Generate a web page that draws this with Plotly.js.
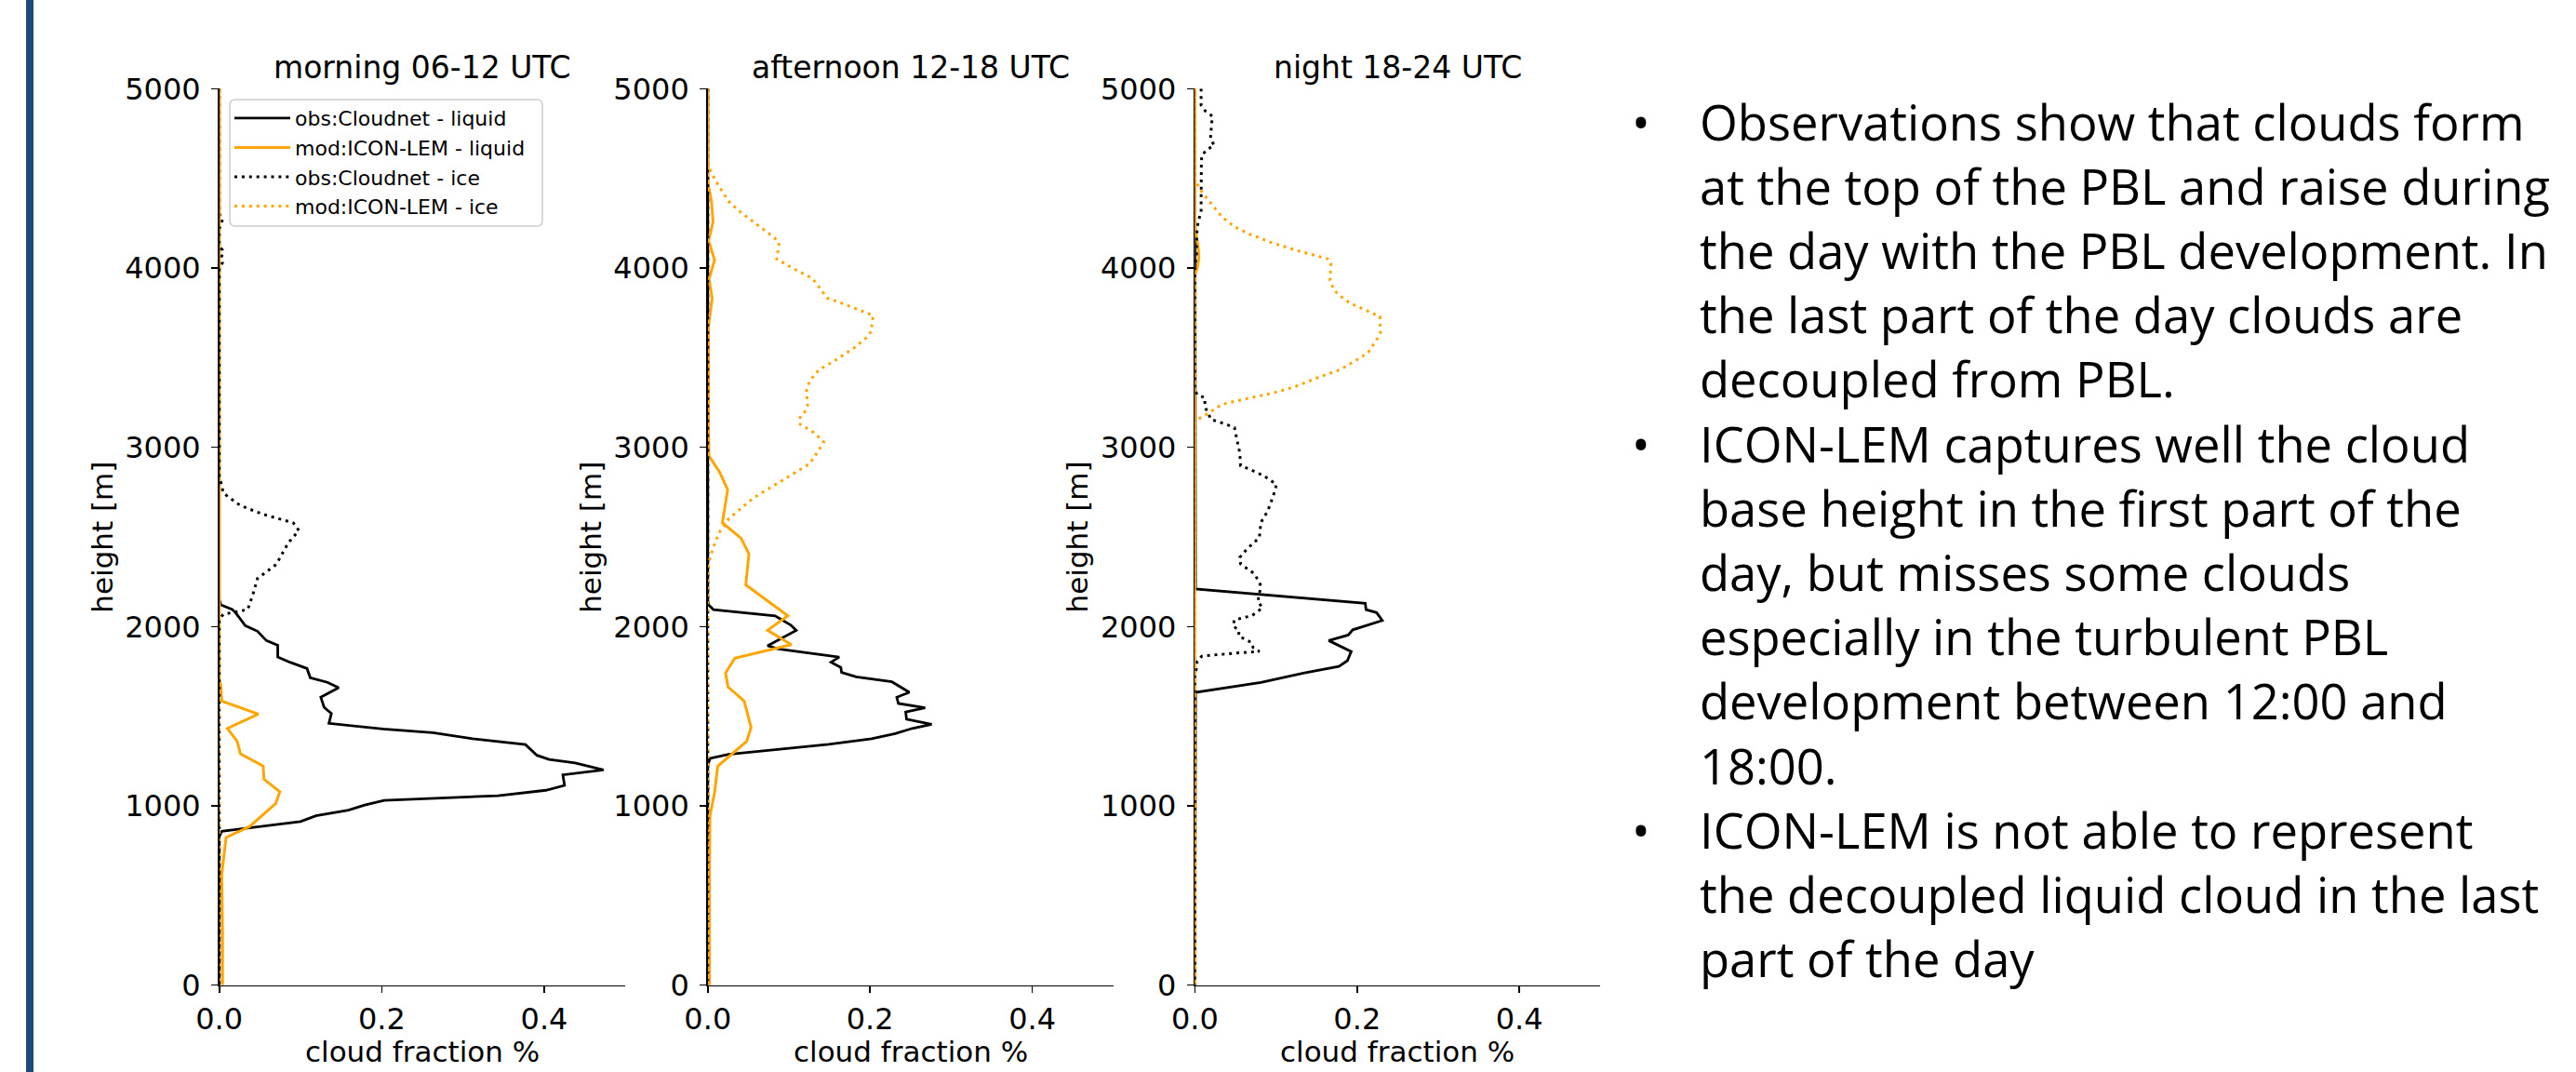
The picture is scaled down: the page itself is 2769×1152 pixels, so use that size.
<!DOCTYPE html>
<html>
<head>
<meta charset="utf-8">
<script src="https://cdn.plot.ly/plotly-3.0.1.min.js"></script>
<style>
html, body { margin: 0; padding: 0; background: #ffffff; }
#chart { width: 2769px; height: 1152px; }
</style>
</head>
<body>
<div id="chart"></div>
<script>
// ---------------- DATA ----------------
const panelTitles = ["morning 06-12 UTC", "afternoon 12-18 UTC", "night 18-24 UTC"];
const seriesNames = ["obs:Cloudnet - liquid", "mod:ICON-LEM - liquid", "obs:Cloudnet - ice", "mod:ICON-LEM - ice"];
const xAxisTitle = "cloud fraction %";
const yAxisTitle = "height [m]";
const xTickVals = [0, 0.2, 0.4];
const xTickText = ["0.0", "0.2", "0.4"];
const yTickVals = [0, 1000, 2000, 3000, 4000, 5000];
const yTickText = ["0", "1000", "2000", "3000", "4000", "5000"];

// morning 06-12 UTC
const morningObsLiqH = [5000, 2150, 2121, 2095, 2078, 2005, 1974, 1922, 1896, 1830, 1801, 1766, 1715, 1689, 1659, 1606, 1550, 1515, 1460, 1429, 1408, 1374, 1342, 1282, 1259, 1239, 1201, 1173, 1114, 1087, 1057, 1031, 1005, 976, 945, 913, 858, 830, 0];
const morningObsLiq  = [0, 0, 0.002, 0.016, 0.020, 0.032, 0.047, 0.058, 0.072, 0.072, 0.087, 0.108, 0.112, 0.133, 0.147, 0.125, 0.129, 0.138, 0.135, 0.2015, 0.263, 0.312, 0.377, 0.391, 0.406, 0.438, 0.473, 0.423, 0.425, 0.402, 0.343, 0.203, 0.179, 0.159, 0.119, 0.100, 0.003, 0, 0];
const morningModLiqH = [5000, 1700, 1671, 1585, 1512, 1432, 1360, 1291, 1222, 1149, 1079, 1014, 884, 824, 720, 616, 300, 0];
const morningModLiq  = [0, 0, 0.002, 0.003, 0.048, 0.010, 0.022, 0.026, 0.054, 0.055, 0.0745, 0.0696, 0.037, 0.0084, 0.0057, 0.003, 0.004, 0.004];
const morningObsIceH = [5000, 4300, 4280, 4250, 4220, 4120, 4100, 4060, 4030, 4000, 2830, 2804, 2744, 2675, 2626, 2579, 2536, 2467, 2346, 2268, 2173, 2095, 2069, 2040, 0];
const morningObsIce  = [0, 0, 0.004, 0.003, 0, 0, 0.004, 0.003, 0.004, 0, 0, 0.002, 0.005, 0.026, 0.054, 0.091, 0.098, 0.085, 0.070, 0.047, 0.041, 0.035, 0.005, 0, 0];
const morningModIceH = [5000, 0];
const morningModIce  = [0, 0];

// afternoon 12-18 UTC
const afternoonObsLiqH = [5000, 2150, 2121, 2095, 2060, 2043, 2008, 1979, 1893, 1875, 1835, 1830, 1801, 1772, 1744, 1720, 1692, 1633, 1606, 1571, 1547, 1524, 1484, 1455, 1432, 1403, 1374, 1343, 1287, 1265, 1230, 0];
const afternoonObsLiq  = [0, 0, 0.001, 0.007, 0.083, 0.089, 0.1025, 0.109, 0.0737, 0.087, 0.156, 0.162, 0.152, 0.164, 0.165, 0.183, 0.227, 0.2485, 0.233, 0.235, 0.268, 0.244, 0.245, 0.276, 0.252, 0.231, 0.202, 0.149, 0.0257, 0.003, 0, 0];
const afternoonModLiqH = [5000, 4500, 4456, 4370, 4257, 4153, 4044, 3937, 3833, 3678, 3100, 2951, 2865, 2764, 2579, 2493, 2406, 2277, 2233, 2060, 1979, 1899, 1824, 1741, 1663, 1585, 1437, 1360, 1222, 1074, 944, 650, 0];
const afternoonModLiq  = [0, 0, 0.001, 0.0046, 0.0065, 0.001, 0.0084, 0.0015, 0.0054, 0.001, 0.001, 0.0015, 0.0142, 0.0245, 0.018, 0.041, 0.0507, 0.0476, 0.0469, 0.0987, 0.0737, 0.103, 0.0334, 0.0219, 0.025, 0.0449, 0.0534, 0.048, 0.0123, 0.0084, 0.0027, 0.002, 0.002];
const afternoonObsIceH = [5000, 0];
const afternoonObsIce  = [0, 0];
const afternoonModIceH = [5000, 4600, 4569, 4525, 4447, 4370, 4309, 4252, 4171, 4141, 4096, 4050, 3986, 3942, 3871, 3833, 3802, 3750, 3735, 3695, 3647, 3609, 3553, 3479, 3432, 3370, 3318, 3231, 3193, 3159, 3128, 3081, 3029, 2986, 2908, 2813, 2718, 2602, 2524, 2441, 2354, 2320, 0];
const afternoonModIce  = [0, 0, 0.001, 0.005, 0.015, 0.026, 0.041, 0.0573, 0.0815, 0.088, 0.0864, 0.085, 0.110, 0.129, 0.141, 0.147, 0.166, 0.195, 0.204, 0.2025, 0.2016, 0.195, 0.180, 0.155, 0.137, 0.1256, 0.1218, 0.123, 0.119, 0.1125, 0.114, 0.1313, 0.143, 0.137, 0.1256, 0.091, 0.0564, 0.026, 0.014, 0.0066, 0.001, 0, 0];

// night 18-24 UTC
const nightObsLiqH = [5000, 2230, 2210, 2130, 2095, 2078, 2034, 1982, 1953, 1922, 1861, 1810, 1778, 1741, 1689, 1633, 0];
const nightObsLiq  = [0, 0, 0.0008, 0.210, 0.211, 0.224, 0.231, 0.1946, 0.189, 0.165, 0.1927, 0.188, 0.1775, 0.135, 0.0814, 0.0008, 0];
const nightModLiqH = [5000, 4250, 4200, 4120, 4060, 4000, 3960, 0];
const nightModLiq  = [0, 0, 0.001, 0.004, 0.005, 0.003, 0, 0];
const nightObsIceH = [5000, 4907, 4875, 4847, 4768, 4721, 4684, 4662, 4628, 4581, 4360, 4313, 4267, 4221, 4130, 4080, 4000, 3320, 3294, 3276, 3226, 3188, 3155, 3128, 3109, 3026, 2970, 2896, 2881, 2840, 2793, 2729, 2645, 2581, 2497, 2432, 2386, 2349, 2293, 2228, 2140, 2104, 2060, 2038, 2005, 1977, 1948, 1910, 1882, 1861, 1851, 1835, 1806, 1766, 1740, 0];
const nightObsIce  = [0.0077, 0.0077, 0.013, 0.0215, 0.020, 0.0192, 0.0238, 0.0154, 0.0085, 0.008, 0.0077, 0.0077, 0.0046, 0.0028, 0.002, 0.002, 0, 0, 0.0028, 0.0123, 0.0123, 0.016, 0.020, 0.039, 0.0488, 0.0526, 0.0553, 0.0564, 0.066, 0.0852, 0.1006, 0.0967, 0.0898, 0.0814, 0.0795, 0.0641, 0.0553, 0.0564, 0.0737, 0.0814, 0.0776, 0.0834, 0.070, 0.0488, 0.0469, 0.0546, 0.0538, 0.070, 0.0719, 0.0795, 0.0469, 0.0085, 0.0028, 0.002, 0, 0];
const nightModIceH = [5000, 4500, 4471, 4430, 4391, 4323, 4285, 4230, 4189, 4141, 4100, 4063, 4050, 4026, 3933, 3896, 3856, 3804, 3766, 3730, 3641, 3600, 3529, 3479, 3433, 3387, 3335, 3299, 3270, 3239, 3188, 3164, 3140, 0];
const nightModIce  = [0, 0, 0.0028, 0.0077, 0.0143, 0.0265, 0.0334, 0.0488, 0.0672, 0.0949, 0.1237, 0.154, 0.164, 0.1678, 0.1666, 0.1697, 0.1755, 0.191, 0.210, 0.228, 0.2288, 0.224, 0.2138, 0.1965, 0.179, 0.1505, 0.1217, 0.0929, 0.0621, 0.0334, 0.016, 0.0066, 0, 0];

const textLines = [
  "Observations show that clouds form",
  "at the top of the PBL and raise during",
  "the day with the PBL development. In",
  "the last part of the day clouds are",
  "decoupled from PBL.",
  "ICON-LEM captures well the cloud",
  "base height in the first part of the",
  "day, but misses some clouds",
  "especially in the turbulent PBL",
  "development between 12:00 and",
  "18:00.",
  "ICON-LEM is not able to represent",
  "the decoupled liquid cloud in the last",
  "part of the day"
];
const bulletLines = [0, 5, 11];

// ---------------- LAYOUT / STYLE ----------------
const W = 2769, H = 1152;
const px = x => x / W;
const py = y => 1 - y / H;

const panelX = [[235.7, 672.3], [760.8, 1196.8], [1284.4, 1720.4]];
const plotTop = 95.3, plotBottom = 1058.7;

const BLACK = "#000000", ORANGE = "#ffa500";
const DOT = "3px,4.9px";
const styles = [
  {color: BLACK, dash: "solid", width: 2.8},
  {color: ORANGE, dash: "solid", width: 3},
  {color: BLACK, dash: DOT, width: 3},
  {color: ORANGE, dash: DOT, width: 3}
];

const panels = [
  [[morningObsLiq, morningObsLiqH], [morningModLiq, morningModLiqH], [morningObsIce, morningObsIceH], [morningModIce, morningModIceH]],
  [[afternoonObsLiq, afternoonObsLiqH], [afternoonModLiq, afternoonModLiqH], [afternoonObsIce, afternoonObsIceH], [afternoonModIce, afternoonModIceH]],
  [[nightObsLiq, nightObsLiqH], [nightModLiq, nightModLiqH], [nightObsIce, nightObsIceH], [nightModIce, nightModIceH]]
];

const data = [];
panels.forEach((series, p) => {
  series.forEach((s, k) => {
    data.push({
      type: "scatter",
      mode: "lines",
      x: s[0],
      y: s[1],
      name: seriesNames[k],
      xaxis: p === 0 ? "x" : "x" + (p + 1),
      yaxis: p === 0 ? "y" : "y" + (p + 1),
      showlegend: p === 0,
      line: {color: styles[k].color, dash: styles[k].dash, width: styles[k].width},
      hoverinfo: "skip",
      cliponaxis: false
    });
  });
});

const tickFont = {family: "DejaVu Sans", size: 32, color: "#000"};
const labelFont = {family: "DejaVu Sans", size: 31, color: "#000"};

// legend frame (rounded, matplotlib-like)
const lb = {x0: 247, x1: 583, y0: 107, y1: 243, r: 6};
const P = (x, y) => px(x).toFixed(6) + "," + py(y).toFixed(6);
const legendFrame =
  "M" + P(lb.x0 + lb.r, lb.y0) + " L" + P(lb.x1 - lb.r, lb.y0) +
  " Q" + P(lb.x1, lb.y0) + " " + P(lb.x1, lb.y0 + lb.r) +
  " L" + P(lb.x1, lb.y1 - lb.r) +
  " Q" + P(lb.x1, lb.y1) + " " + P(lb.x1 - lb.r, lb.y1) +
  " L" + P(lb.x0 + lb.r, lb.y1) +
  " Q" + P(lb.x0, lb.y1) + " " + P(lb.x0, lb.y1 - lb.r) +
  " L" + P(lb.x0, lb.y0 + lb.r) +
  " Q" + P(lb.x0, lb.y0) + " " + P(lb.x0 + lb.r, lb.y0) + " Z";

const layout = {
  width: W, height: H,
  margin: {l: 0, r: 0, t: 0, b: 0, pad: 0, autoexpand: false},
  paper_bgcolor: "#ffffff",
  plot_bgcolor: "#ffffff",
  showlegend: true,
  legend: {
    x: px(247), y: py(106), xanchor: "left", yanchor: "top",
    bgcolor: "rgba(0,0,0,0)",
    borderwidth: 0,
    font: {family: "DejaVu Sans", size: 22, color: "#000"},
    itemwidth: 60,
    traceorder: "normal"
  },
  shapes: [
    {type: "rect", xref: "paper", yref: "paper", x0: px(28), x1: px(36), y0: 0, y1: 1,
     fillcolor: "#1f497d", line: {width: 0}, layer: "above"},
    {type: "path", xref: "paper", yref: "paper", path: legendFrame,
     fillcolor: "rgba(255,255,255,0.8)", line: {color: "#cccccc", width: 1.5}, layer: "above"}
  ],
  annotations: []
};

panelX.forEach((d, p) => {
  const sx = p === 0 ? "" : String(p + 1);
  layout["xaxis" + sx] = {
    domain: [px(d[0]), px(d[1])],
    anchor: "y" + sx,
    range: [0, 0.5],
    tickvals: xTickVals, ticktext: xTickText,
    showline: true, linecolor: "#000", linewidth: 1.6,
    ticks: "outside", ticklen: 7, tickwidth: 1.6, tickcolor: "#000",
    showgrid: false, zeroline: false,
    tickfont: tickFont,
    fixedrange: true
  };
  layout["yaxis" + sx] = {
    domain: [py(plotBottom), py(plotTop)],
    anchor: "x" + sx,
    range: [0, 5000],
    tickvals: yTickVals, ticktext: yTickText,
    showline: true, linecolor: "#000", linewidth: 1.6,
    ticks: "outside", ticklen: 7, tickwidth: 1.6, tickcolor: "#000",
    showgrid: false, zeroline: false,
    tickfont: tickFont,
    ticklabelstandoff: 5,
    fixedrange: true
  };
  // panel title
  layout.annotations.push({
    xref: "paper", yref: "paper",
    x: px((d[0] + d[1]) / 2), y: py(72),
    xanchor: "center", yanchor: "middle",
    text: panelTitles[p], showarrow: false,
    font: {family: "DejaVu Sans", size: 33, color: "#000"}
  });
  // x axis title
  layout.annotations.push({
    xref: "paper", yref: "paper",
    x: px((d[0] + d[1]) / 2), y: py(1130),
    xanchor: "center", yanchor: "middle",
    text: xAxisTitle, showarrow: false, font: labelFont
  });
  // y axis title
  layout.annotations.push({
    xref: "paper", yref: "paper",
    x: px(d[0] - 126), y: py((plotTop + plotBottom) / 2),
    xanchor: "center", yanchor: "middle", textangle: -90,
    text: yAxisTitle, showarrow: false, font: labelFont
  });
});

const textFont = {family: "Open Sans", size: 52.5, color: "#000"};
textLines.forEach((line, i) => {
  const mid = 130 + i * 69.2;
  layout.annotations.push({
    xref: "paper", yref: "paper",
    x: px(1825), y: py(mid),
    xanchor: "left", yanchor: "middle",
    text: line, showarrow: false, font: textFont
  });
  if (bulletLines.indexOf(i) >= 0) {
    layout.annotations.push({
      xref: "paper", yref: "paper",
      x: px(1764), y: py(mid),
      xanchor: "center", yanchor: "middle",
      text: "•", showarrow: false, font: textFont
    });
  }
});

Plotly.newPlot("chart", data, layout, {displayModeBar: false, staticPlot: true});
</script>
</body>
</html>
